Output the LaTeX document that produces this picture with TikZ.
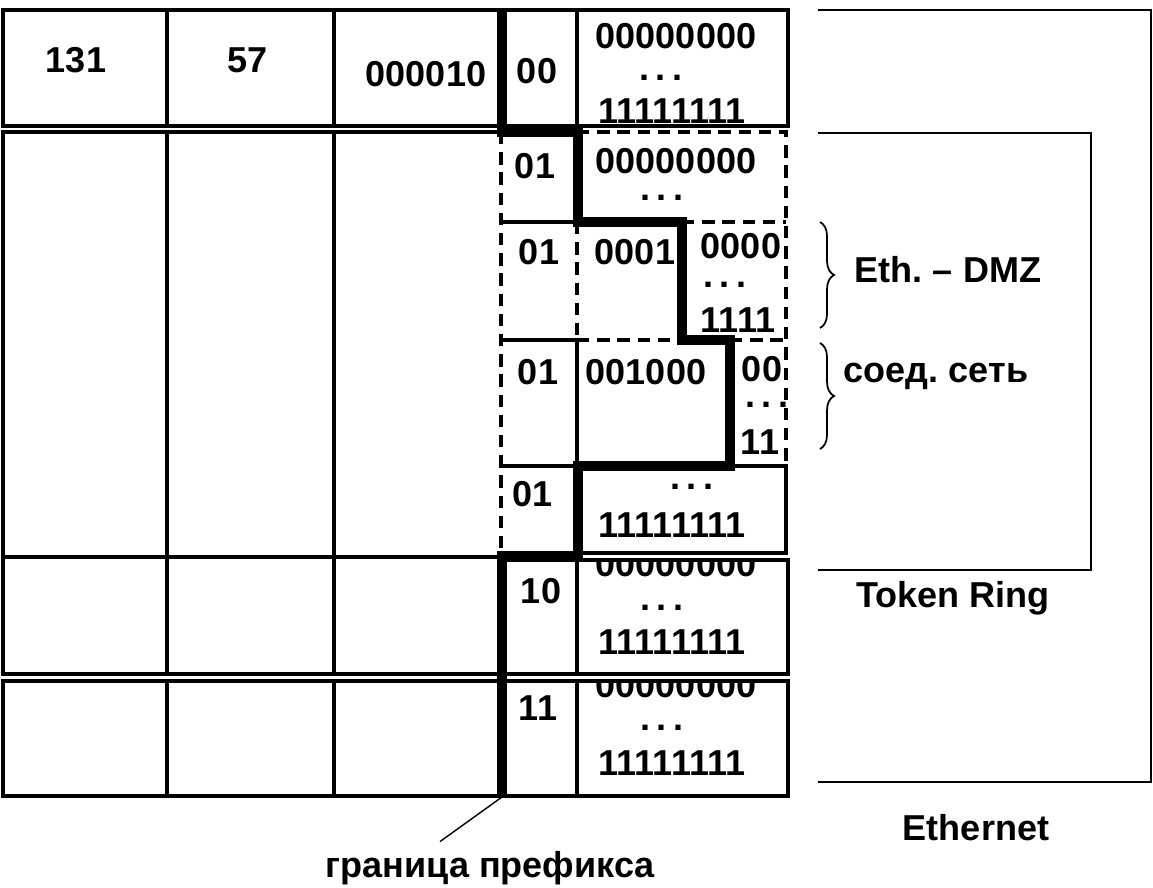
\documentclass[tikz,border=0pt]{standalone}
\usepackage{fontspec}
\setmainfont{Liberation Sans}
\usetikzlibrary{decorations.pathreplacing}

\begin{document}
\begin{tikzpicture}[x=0.02cm,y=-0.02cm,
    cell/.style={draw,line width=1.8pt},
    dcell/.style={draw,line width=1.8pt,dash pattern=on 7pt off 4.5pt},
    bound/.style={draw,line width=5.6pt,line join=miter},
    net/.style={draw,line width=1.1pt},
    lbl/.style={font=\bfseries\fontsize{20.5}{24}\selectfont\frenchspacing,inner sep=0pt},
    brc/.style={draw,decorate,decoration={brace,amplitude=8pt},line width=1pt},
  ]
  \useasboundingbox (0,0) rectangle (1153,888);

  \foreach \xa/\xb in {3/167,167/334,334/501}{
    \draw[cell] (\xa,10) rectangle (\xb,126);
    \draw[cell] (\xa,557) rectangle (\xb,674);
    \draw[cell] (\xa,681) rectangle (\xb,796);
  }
  \foreach \xa/\xb in {3/167,167/334}
    \draw[cell] (\xa,132) rectangle (\xb,557);
  \draw[cell] (501,132) -- (334,132) -- (334,557) -- (501,557);

  \draw[cell] (501,10) rectangle (577,126);
  \draw[cell] (577,10) rectangle (788,126);

  \draw[dcell] (501,132) -- (501,556);
  \draw[dcell] (577,132) -- (786,132) -- (786,466);
  \draw[cell] (501,222) -- (577,222);
  \draw[dcell] (682,222) -- (786,222);
  \draw[dcell] (577,222) -- (577,340);
  \draw[cell] (501,340) -- (577,340);
  \draw[dcell] (577,340) -- (682,340);
  \draw[dcell] (730,340) -- (786,340);
  \draw[cell] (577,340) -- (577,466);
  \draw[cell] (501,466) -- (577,466);
  \draw[cell] (730,466) -- (786,466);
  \draw[cell] (577,466) rectangle (786,553);

  \draw[cell] (501,560) rectangle (577,674);
  \draw[cell] (577,560) rectangle (788,674);
  \draw[cell] (501,681) rectangle (577,796);
  \draw[cell] (577,681) rectangle (788,796);

  \draw[bound] (502,10) -- (502,132) -- (578,132) -- (578,222) -- (682,222)
    -- (682,340) -- (730,340) -- (730,466) -- (578,466) -- (578,556)
    -- (502,556) -- (502,797) coordinate (pfx);

  \node[lbl] (a1) at (76,60) {131};
  \node[lbl] (a2) at (248,60) {57};
  \node[lbl] (a3) at (426,74) {000010};
  \node[lbl] (a4) at (537,71) {00};
  \node[lbl] (a5) at (676,36) {00000000};
  \node[lbl] (a6) at (661,78) {.\,.\,.};
  \node[lbl] (a7) at (672,111) {11111111};

  \node[lbl] (b1) at (535,166) {01};
  \node[lbl] (b2) at (676,161) {00000000};
  \node[lbl] (b3) at (662,198) {.\,.\,.};

  \node[lbl] (c1) at (539,252) {01};
  \node[lbl] (c2) at (635,252) {0001};
  \node[lbl] (c3) at (741,246) {0000};
  \node[lbl] (c4) at (725,285) {.\,.\,.};
  \node[lbl] (c5) at (738,320) {1111};

  \node[lbl] (d1) at (538,372) {01};
  \node[lbl] (d2) at (646,372) {001000};
  \node[lbl] (d3) at (762,369) {00};
  \node[lbl] (d4) at (767,405) {.\,.\,.};
  \node[lbl] (d5) at (760,442) {11};

  \node[lbl] (e1) at (533,494) {01};
  \node[lbl] (e2) at (692,487) {.\,.\,.};
  \node[lbl] (e3) at (672,525) {11111111};

  \begin{scope}
    \clip (577,560) rectangle (788,674);
    \node[lbl] (f2) at (676,564) {00000000};
  \end{scope}
  \node[lbl] (f1) at (541,591) {10};
  \node[lbl] (f3) at (662,608) {.\,.\,.};
  \node[lbl] (f4) at (672,642) {11111111};

  \begin{scope}
    \clip (577,681) rectangle (788,796);
    \node[lbl] (g2) at (676,685) {00000000};
  \end{scope}
  \node[lbl] (g1) at (538,708) {11};
  \node[lbl] (g3) at (662,728) {.\,.\,.};
  \node[lbl] (g4) at (672,763) {11111111};

  \draw[net] (818,10) -- (1151,10) -- (1151,782) -- (818,782);
  \draw[net] (818,133) -- (1091,133) -- (1091,570) -- (818,570);
  \node[lbl,anchor=base] (tring) at (953,607) {Token Ring};
  \node[lbl,anchor=base] (ether) at (976,840) {Ethernet};

  \draw[brc] (820,222) coordinate (dmztop) -- (820,328) coordinate (dmzbot);
  \node[lbl,anchor=base] (dmz) at (948,283) {Eth. – DMZ};
  \draw[brc] (820,343) coordinate (sntop) -- (820,449) coordinate (snbot);
  \node[lbl,anchor=base] (sn) at (936,383) {соед. сеть};

  \node[lbl,anchor=base] (pfxlbl) at (490,877) {граница префикса};
  \draw[line width=0.8pt] (pfx) -- ([xshift=-1cm,yshift=0.18cm]pfxlbl.north);
\end{tikzpicture}
\end{document}
